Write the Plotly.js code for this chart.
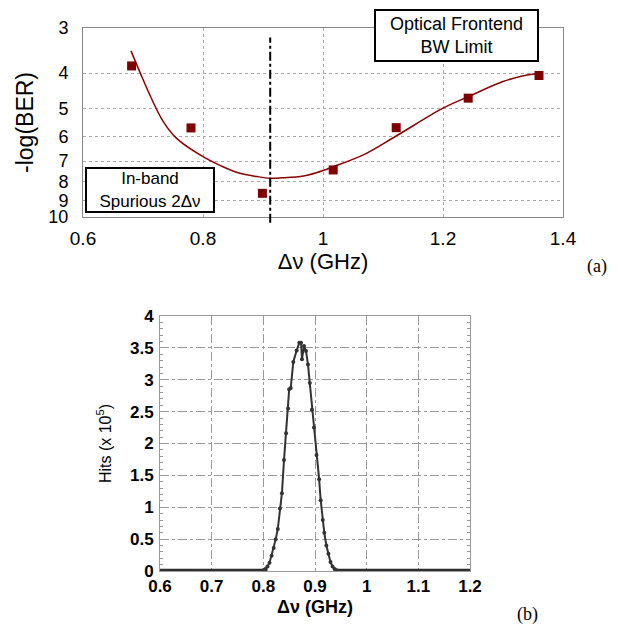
<!DOCTYPE html>
<html>
<head>
<meta charset="utf-8">
<script src="https://cdn.plot.ly/plotly-3.0.1.min.js"></script>
<style>html,body{margin:0;padding:0;background:#fff;}#chart{width:618px;height:626px;}</style>
</head>
<body>
<div id="chart"></div>
<script>
// (a) measured BER points
const berX = [0.681, 0.780, 0.899, 1.017, 1.122, 1.242, 1.360];
const berY = [3.82, 5.67, 8.60, 7.41, 5.66, 4.69, 4.06];
// (a) fitted curve
const fitX = [0.680, 0.695, 0.712, 0.733, 0.756, 0.80, 0.83, 0.86, 0.89, 0.912, 0.94, 0.962, 0.989, 1.017, 1.07, 1.122, 1.2, 1.242, 1.30, 1.34, 1.36];
const fitY = [3.47, 3.98, 4.62, 5.42, 6.06, 6.81, 7.22, 7.56, 7.73, 7.81, 7.77, 7.73, 7.54, 7.26, 6.70, 5.97, 5.00, 4.65, 4.22, 4.05, 4.01];
const markerLineX = 0.912;
const topTicks = [3, 4, 5, 6, 7, 8, 9, 10];

// (b) histogram of hits (x 10^5)
const hitsX = [0.600, 0.796, 0.800, 0.804, 0.808, 0.812, 0.816, 0.820, 0.824, 0.828, 0.832, 0.836, 0.840, 0.844, 0.848, 0.850, 0.853, 0.858, 0.8645, 0.8697, 0.873, 0.8748, 0.8787, 0.8826, 0.8864, 0.890, 0.894, 0.898, 0.903, 0.908, 0.911, 0.915, 0.918, 0.922, 0.926, 0.930, 0.934, 0.938, 0.942, 0.946, 1.200];
const hitsY = [0, 0, 0.01, 0.03, 0.07, 0.13, 0.24, 0.36, 0.50, 0.66, 0.98, 1.22, 1.74, 2.16, 2.55, 2.85, 2.87, 3.28, 3.46, 3.58, 3.58, 3.32, 3.53, 3.45, 3.24, 2.95, 2.53, 2.25, 1.82, 1.44, 1.11, 0.80, 0.60, 0.40, 0.27, 0.14, 0.07, 0.03, 0.01, 0, 0];
const baseLeftX = [0.600, 0.808];
const baseRightX = [0.938, 1.200];
const baseY = [0, 0];

const W = 618, H = 626;
const px = v => v / W;
const py = v => 1 - v / H;

const sans = 'Arial, "Liberation Sans", sans-serif';
const serif = '"Times New Roman", "Liberation Serif", serif';

const traces = [
  {x: fitX, y: fitY, xaxis: 'x', yaxis: 'y', mode: 'lines', line: {color: '#8b0000', width: 1.5, shape: 'spline', smoothing: 1}, hoverinfo: 'skip'},
  {x: berX, y: berY, xaxis: 'x', yaxis: 'y', mode: 'markers', marker: {symbol: 'square', size: 9, color: '#7f0000'}},
  {x: baseLeftX, y: baseY, xaxis: 'x2', yaxis: 'y2', mode: 'lines', line: {color: '#2a2a2a', width: 4.5}},
  {x: baseRightX, y: baseY, xaxis: 'x2', yaxis: 'y2', mode: 'lines', line: {color: '#2a2a2a', width: 4.5}},
  {x: hitsX, y: hitsY, xaxis: 'x2', yaxis: 'y2', mode: 'lines+markers', line: {color: '#333', width: 2}, marker: {size: 4, color: '#333'}}
];

const layout = {
  width: W, height: H,
  margin: {l: 0, r: 0, t: 0, b: 0},
  paper_bgcolor: '#fff', plot_bgcolor: '#fff',
  showlegend: false,
  font: {family: sans, color: '#000'},
  xaxis: {
    domain: [px(83), px(563)], anchor: 'y', range: [0.6, 1.4], tickvals: [0.6, 0.8, 1.0, 1.2, 1.4],
    ticktext: ['0.6', '0.8', '1', '1.2', '1.4'],
    showgrid: true, gridcolor: '#aaa', griddash: 'dot', gridwidth: 1,
    showline: true, linecolor: '#888', linewidth: 1, mirror: true, ticks: '', zeroline: false,
    tickfont: {size: 19, family: sans}, ticklabelstandoff: 4,
    title: {text: 'Δν (GHz)', font: {size: 22, family: sans}, standoff: 0}
  },
  yaxis: {
    domain: [py(217), py(28)], anchor: 'x', type: 'log', range: [1, Math.log10(3)],
    tickvals: topTicks, ticktext: topTicks.map(String),
    showgrid: true, gridcolor: '#aaa', griddash: 'dot', gridwidth: 1,
    showline: true, linecolor: '#888', linewidth: 1, mirror: true, ticks: '', zeroline: false,
    tickfont: {size: 18, family: sans}, ticklabelstandoff: 10,
    title: {text: '-log(BER)', font: {size: 23, family: sans}, standoff: 8}
  },
  xaxis2: {
    domain: [px(160), px(470)], anchor: 'y2', range: [0.6, 1.2], dtick: 0.1, tick0: 0.6,
    showgrid: true, gridcolor: '#999', griddash: 'dashdot', gridwidth: 1,
    showline: true, linecolor: '#999', linewidth: 1, mirror: true, ticks: '', zeroline: false,
    tickfont: {size: 17, family: sans, weight: 'bold'}, ticklabelstandoff: 0,
    title: {text: '<b>Δν (GHz)</b>', font: {size: 18, family: sans}, standoff: 4}
  },
  yaxis2: {
    domain: [py(571), py(316)], anchor: 'x2', range: [0, 4], dtick: 0.5,
    showgrid: true, gridcolor: '#999', griddash: 'dashdot', gridwidth: 1,
    showline: true, linecolor: '#999', linewidth: 1, mirror: 'ticks', ticks: 'inside', ticklen: 4, tickcolor: '#999', zeroline: false,
    minor: {ticks: 'inside', dtick: 0.1, ticklen: 3, tickcolor: '#999', showgrid: false},
    tickfont: {size: 17, family: sans, weight: 'bold'}, ticklabelstandoff: 2,
    title: {text: 'Hits (x 10<sup>5</sup>)', font: {size: 16, family: sans}, standoff: 14}
  },
  shapes: [
    {type: 'line', xref: 'x', yref: 'y domain', x0: markerLineX, x1: markerLineX, y0: -0.03, y1: 0.95,
     line: {color: '#000', width: 2, dash: 'dashdot'}}
  ],
  annotations: [
    {xref: 'paper', yref: 'paper', x: px(456.5), y: py(35.5), xanchor: 'center', yanchor: 'middle',
     text: 'Optical Frontend<br>BW Limit', showarrow: false, font: {size: 18, family: sans, color: '#000'},
     bgcolor: '#fff', bordercolor: '#000', borderwidth: 2, borderpad: 0, width: 161, height: 49},
    {xref: 'paper', yref: 'paper', x: px(150), y: py(190), xanchor: 'center', yanchor: 'middle',
     text: 'In-band<br>Spurious 2Δν', showarrow: false, font: {size: 17, family: sans, color: '#000'},
     bgcolor: '#fff', bordercolor: '#000', borderwidth: 2, borderpad: 0, width: 126, height: 42},
    {xref: 'paper', yref: 'paper', x: px(597), y: py(266), xanchor: 'center', yanchor: 'middle',
     text: '(a)', showarrow: false, font: {size: 18, family: serif, color: '#000'}},
    {xref: 'paper', yref: 'paper', x: px(527), y: py(614), xanchor: 'center', yanchor: 'middle',
     text: '(b)', showarrow: false, font: {size: 18, family: serif, color: '#000'}}
  ]
};

Plotly.newPlot('chart', traces, layout, {displayModeBar: false, staticPlot: true});
</script>
</body>
</html>
